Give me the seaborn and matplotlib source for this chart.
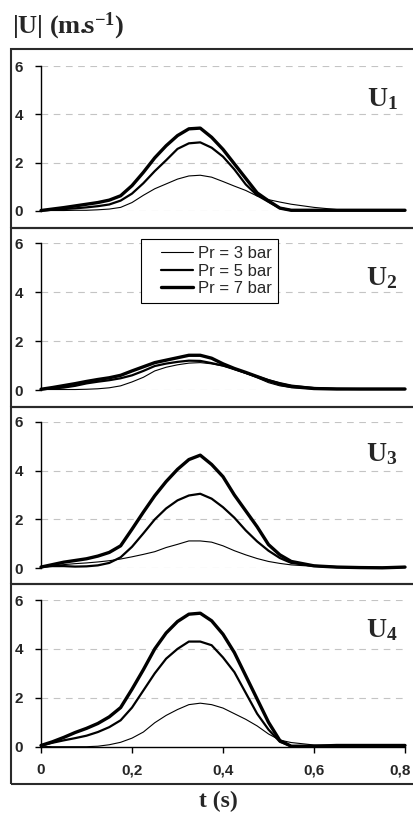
import numpy as np
import pandas as pd
import matplotlib
matplotlib.use("Agg")
import matplotlib.pyplot as plt
import seaborn as sns
from matplotlib.patches import Rectangle
from matplotlib.lines import Line2D
from matplotlib.legend_handler import HandlerLine2D
from matplotlib.transforms import ScaledTranslation

# time axis (s)
t = [0, .025, .05, .075, .1, .125, .15, .175, .2, .225, .25, .275, .3, .325,
     .35, .375, .4, .425, .45, .475, .5, .525, .55, .6, .65, .7, .75, .8]

# |U| (m/s) per probe, Pr = 3 / 5 / 7 bar
u1_3 = [0.02, 0.02, 0.02, 0.03, 0.03, 0.05, 0.08, 0.15, 0.35, 0.65, 0.92, 1.12, 1.32, 1.45,
        1.48, 1.4, 1.22, 1.03, 0.85, 0.62, 0.47, 0.37, 0.28, 0.15, 0.06, 0.03, 0.03, 0.03]
u1_5 = [0.02, 0.05, 0.08, 0.11, 0.15, 0.2, 0.27, 0.43, 0.72, 1.15, 1.65, 2.1, 2.57, 2.8,
        2.84, 2.62, 2.25, 1.72, 1.1, 0.65, 0.38, 0.12, 0.03, 0.03, 0.03, 0.03, 0.03, 0.03]
u1_7 = [0.02, 0.08, 0.14, 0.21, 0.28, 0.35, 0.45, 0.63, 1.05, 1.6, 2.2, 2.7, 3.12, 3.4,
        3.43, 3.05, 2.55, 1.95, 1.35, 0.75, 0.42, 0.12, 0.03, 0.03, 0.03, 0.03, 0.03, 0.03]

u2_3 = [0.02, 0.02, 0.02, 0.02, 0.03, 0.05, 0.09, 0.17, 0.33, 0.52, 0.78, 0.93, 1.03, 1.1,
        1.12, 1.07, 0.98, 0.85, 0.68, 0.5, 0.3, 0.17, 0.1, 0.04, 0.03, 0.03, 0.03, 0.03]
u2_5 = [0.03, 0.06, 0.1, 0.17, 0.27, 0.34, 0.4, 0.48, 0.6, 0.78, 0.98, 1.08, 1.15, 1.2,
        1.19, 1.1, 1.0, 0.85, 0.7, 0.55, 0.4, 0.28, 0.18, 0.08, 0.05, 0.04, 0.04, 0.04]
u2_7 = [0.03, 0.1, 0.18, 0.26, 0.35, 0.43, 0.5, 0.6, 0.78, 0.95, 1.12, 1.22, 1.32, 1.42,
        1.42, 1.3, 1.07, 0.88, 0.72, 0.55, 0.38, 0.24, 0.14, 0.06, 0.04, 0.04, 0.04, 0.04]

u3_3 = [0.05, 0.12, 0.15, 0.19, 0.22, 0.26, 0.31, 0.38, 0.47, 0.57, 0.68, 0.85, 0.98, 1.12,
        1.12, 1.07, 0.92, 0.72, 0.55, 0.4, 0.28, 0.2, 0.14, 0.08, 0.05, 0.03, 0.02, 0.05]
u3_5 = [0.05, 0.09, 0.09, 0.07, 0.08, 0.12, 0.22, 0.45, 0.88, 1.43, 2.0, 2.45, 2.78, 2.98,
        3.05, 2.85, 2.5, 2.07, 1.55, 1.1, 0.72, 0.42, 0.22, 0.1, 0.05, 0.03, 0.02, 0.05]
u3_7 = [0.05, 0.15, 0.25, 0.32, 0.39, 0.5, 0.65, 0.92, 1.6, 2.3, 2.97, 3.55, 4.05, 4.45,
        4.63, 4.25, 3.75, 3.0, 2.35, 1.7, 0.97, 0.55, 0.28, 0.1, 0.05, 0.03, 0.02, 0.05]

u4_3 = [0.02, 0.0, 0.0, 0.0, 0.0, 0.02, 0.08, 0.18, 0.35, 0.6, 0.98, 1.28, 1.52, 1.72,
        1.78, 1.72, 1.58, 1.35, 1.12, 0.85, 0.52, 0.27, 0.17, 0.07, 0.05, 0.05, 0.05, 0.05]
u4_5 = [0.05, 0.16, 0.26, 0.35, 0.45, 0.6, 0.8, 1.08, 1.6, 2.3, 3.0, 3.6, 4.0, 4.3,
        4.3, 4.15, 3.65, 3.05, 2.2, 1.35, 0.7, 0.2, 0.02, 0.02, 0.05, 0.05, 0.05, 0.05]
u4_7 = [0.05, 0.2, 0.38, 0.58, 0.75, 0.95, 1.22, 1.6, 2.35, 3.15, 4.0, 4.65, 5.12, 5.42,
        5.46, 5.15, 4.6, 3.85, 2.9, 1.95, 1.0, 0.25, 0.02, 0.02, 0.05, 0.05, 0.05, 0.05]

levels = ["Pr = 3 bar", "Pr = 5 bar", "Pr = 7 bar"]
widths = {"Pr = 3 bar": 0.8, "Pr = 5 bar": 1.6, "Pr = 7 bar": 2.4}
yticks = [0, 2, 4, 6]
xticks = [0, 0.2, 0.4, 0.6, 0.8]
xticklabels = ["0", "0,2", "0,4", "0,6", "0,8"]

sns.set_style("white")
plt.rcParams["font.family"] = ["Liberation Sans", "DejaVu Sans"]
plt.rcParams["mathtext.fontset"] = "custom"
plt.rcParams["mathtext.rm"] = "Liberation Serif"
plt.rcParams["mathtext.bf"] = "Liberation Serif:bold"
plt.rcParams["mathtext.it"] = "Liberation Serif:italic"

W, H = 414, 814
fig = plt.figure(figsize=(W / 100, H / 100), dpi=100)

# (axes top px, axes bottom px, frame top px, frame bottom px, label y, name, series)
panels = [
    (66, 211, 49, 228, 0.725, "1", [u1_3, u1_5, u1_7]),
    (243.3, 390, 228, 407, 0.715, "2", [u2_3, u2_5, u2_7]),
    (421.7, 568.3, 407, 584, 0.73, "3", [u3_3, u3_5, u3_7]),
    (600, 746.7, 584, 784, 0.75, "4", [u4_3, u4_5, u4_7]),
]

for i, (top, bot, ftop, fbot, ly, name, series) in enumerate(panels):
    last = i == len(panels) - 1

    # boxed panel frame
    fig.add_artist(Rectangle((11 / W, 1 - fbot / H), (W + 20) / W, (fbot - ftop) / H,
                             transform=fig.transFigure, fill=False, lw=1.5,
                             ec="#2a2a2a", clip_on=False, zorder=0))

    ax = fig.add_axes([41 / W, 1 - bot / H, 364 / W, (bot - top) / H])
    ax.set_facecolor("none")

    df = pd.DataFrame({
        "t": np.tile(t, 3),
        "U": np.concatenate(series),
        "Pr": np.repeat(levels, len(t)),
    })
    sns.lineplot(data=df, x="t", y="U", size="Pr", sizes=widths, size_order=levels,
                 color="black", estimator=None, errorbar=None, legend=False, ax=ax)
    handles = list(ax.lines)
    for ln in handles:
        ln.set_clip_on(False)
        ln.set_solid_joinstyle("round")

    grid_y = [2, 4, 6] if last else [0, 2, 4, 6]
    for y in grid_y:
        ax.axhline(y, color="#c4c4c4", lw=0.8, ls=(0, (6, 5)), zorder=0)

    ax.set_xlim(0, 0.8)
    ax.set_ylim(0, 6)
    ax.set_xlabel("")
    ax.set_ylabel("")
    for s in ["top", "right"]:
        ax.spines[s].set_visible(False)
    ax.spines["left"].set_color("black")
    ax.spines["left"].set_linewidth(1)
    ax.set_yticks(yticks, labels=[str(v) for v in yticks], fontweight="bold", fontsize=11)
    ax.tick_params(axis="y", left=True, direction="out", length=4, width=1,
                   pad=9, color="black")
    if last:
        ax.spines["bottom"].set_color("black")
        ax.spines["bottom"].set_linewidth(1)
        ax.set_xticks(xticks, labels=xticklabels, fontweight="bold", fontsize=11)
        ax.tick_params(axis="x", bottom=True, direction="out", length=4, width=1,
                       pad=8, color="black")
        # keep the last label inside the canvas
        lab = ax.get_xticklabels()[-1]
        lab.set_transform(lab.get_transform()
                          + ScaledTranslation(-0.05, 0, fig.dpi_scale_trans))
    else:
        ax.spines["bottom"].set_visible(False)
        ax.set_xticks([])

    ax.text(0.98, ly, r"$\mathbf{U_" + name + "}$", transform=ax.transAxes,
            ha="right", va="baseline", fontsize=20)

    if name == "2":
        leg = ax.legend(handles, levels, loc="upper left",
                        bbox_to_anchor=(141 / W, 1 - 239 / H),
                        bbox_transform=fig.transFigure, borderaxespad=0,
                        frameon=True, fancybox=False, framealpha=1,
                        edgecolor="black", fontsize=12, handlelength=2.7,
                        handletextpad=0.3, labelspacing=0.17, borderpad=0.4,
                        handler_map={Line2D: HandlerLine2D(xpad=0.8)})
        leg.get_frame().set_linewidth(0.8)

fig.text(12 / W, 1 - 33 / H, r"$\mathbf{|U|\ (m.\!\!s^{-1})}$", ha="left",
         va="baseline", fontsize=19)
fig.text(218 / W, 1 - 801 / H, "t (s)", family="Liberation Serif", weight="bold",
         fontsize=17, ha="center", va="center")

fig.savefig("out.png", dpi=100)
